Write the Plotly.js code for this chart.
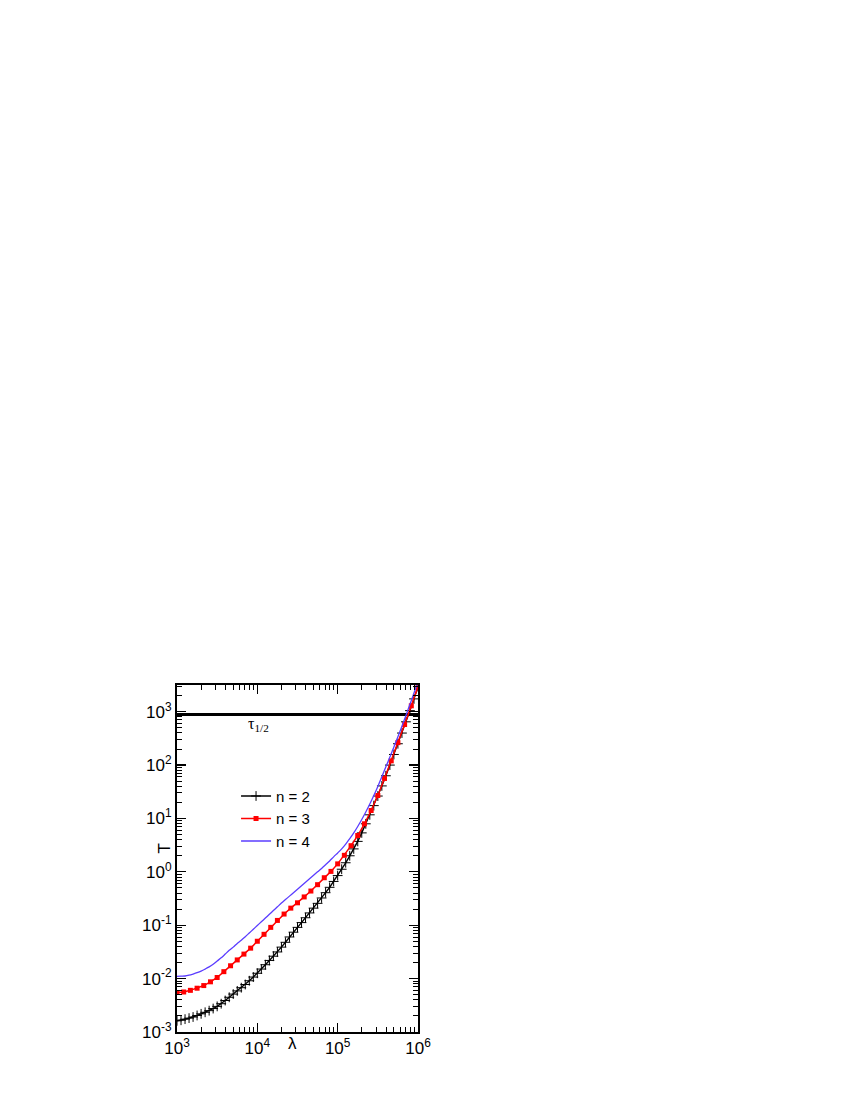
<!DOCTYPE html>
<html>
<head>
<meta charset="utf-8">
<script src="https://cdn.plot.ly/plotly-3.0.1.min.js"></script>
<style>
  body { margin: 0; background: #ffffff; }
  #chart { width: 850px; height: 1100px; }
</style>
</head>
<body>
<div id="chart"></div>
<script>
// lambda grid for n = 2 and n = 4 (20 points per decade)
const lambdaFine = [
  1000, 1122, 1259, 1413, 1585, 1778, 1995, 2239, 2512, 2818,
  3162, 3548, 3981, 4467, 5012, 5623, 6310, 7079, 7943, 8913,
  10000, 11220, 12590, 14130, 15850, 17780, 19950, 22390, 25120, 28180,
  31620, 35480, 39810, 44670, 50120, 56230, 63100, 70790, 79430, 89130,
  100000, 112200, 125900, 141300, 158500, 177800, 199500, 223900, 251200, 281800,
  316200, 354800, 398100, 446700, 501200, 562300, 631000, 707900, 794300, 891300,
  1000000
];

// lambda grid for n = 3 (12 points per decade)
const lambdaRed = [
  1000, 1212, 1468, 1778, 2154, 2610, 3162, 3831, 4642, 5623, 6813, 8254,
  10000, 12120, 14680, 17780, 21540, 26100, 31620, 38310, 46420, 56230, 68130, 82540,
  100000, 121200, 146800, 177800, 215400, 261000, 316200, 383100, 464200, 562300, 681300, 825400,
  1000000
];

const tN2 = [
  0.00162, 0.00166, 0.00174, 0.00182, 0.00191, 0.00204, 0.00219, 0.00234, 0.00251, 0.00275,
  0.00302, 0.00339, 0.00389, 0.00447, 0.00513, 0.00589, 0.00676, 0.00776, 0.00912, 0.0107,
  0.0126, 0.0151, 0.0182, 0.0219, 0.0263, 0.0316, 0.0389, 0.0479, 0.0603, 0.0741,
  0.0912, 0.112, 0.138, 0.170, 0.209, 0.257, 0.324, 0.407, 0.513, 0.661,
  0.851, 1.12, 1.48, 2.00, 2.69, 3.72, 5.37, 7.94, 11.7, 17.4,
  26.3, 40.7, 63.1, 100, 158, 251, 398, 646, 1047, 1738,
  2951
];

const tN3 = [
  0.00550, 0.00562, 0.00603, 0.00661, 0.00741, 0.00871, 0.0105, 0.0135, 0.0174, 0.0224, 0.0288, 0.0372,
  0.0501, 0.0676, 0.0912, 0.123, 0.162, 0.209, 0.263, 0.339, 0.437, 0.575, 0.776, 1.02,
  1.41, 2.04, 3.09, 4.79, 7.94, 14.1, 26.9, 56.2, 120, 263, 575, 1288,
  2951
];

const tN4 = [
  0.0110, 0.0111, 0.0112, 0.0116, 0.0122, 0.0129, 0.0138, 0.0151, 0.0166, 0.0186,
  0.0214, 0.0245, 0.0288, 0.0339, 0.0389, 0.0457, 0.0525, 0.0610, 0.0716, 0.0841,
  0.0989, 0.116, 0.136, 0.160, 0.188, 0.221, 0.260, 0.302, 0.351, 0.407,
  0.473, 0.550, 0.638, 0.741, 0.861, 1.00, 1.16, 1.36, 1.60, 1.91,
  2.26, 2.69, 3.31, 4.17, 5.37, 7.08, 9.55, 13.2, 18.6, 26.9,
  39.8, 60.3, 93.3, 141, 219, 339, 537, 851, 1380, 2239,
  3631
];

// half-life level (horizontal line)
const tHalf = 885;
const tHalfRange = [1000, 1000000];

const seriesNames = ['n = 2', 'n = 3', 'n = 4'];

const xTickVals = [1e3, 1e4, 1e5, 1e6];
const xTickText = ['10<sup>3</sup>', '10<sup>4</sup>', '10<sup>5</sup>', '10<sup>6</sup>'];
const yTickVals = [1e-3, 1e-2, 1e-1, 1e0, 1e1, 1e2, 1e3];
const yTickText = ['10<sup>-3</sup>', '10<sup>-2</sup>', '10<sup>-1</sup>', '10<sup>0</sup>',
                   '10<sup>1</sup>', '10<sup>2</sup>', '10<sup>3</sup>'];

const FONT = "'Liberation Sans', Arial, sans-serif";

const traces = [
  {
    x: tHalfRange, y: [tHalf, tHalf],
    type: 'scatter', mode: 'lines',
    line: { color: '#000000', width: 3 },
    showlegend: false, hoverinfo: 'skip'
  },
  {
    x: lambdaFine, y: tN2, name: seriesNames[0],
    type: 'scatter', mode: 'lines+markers',
    line: { color: '#000000', width: 1.4 },
    marker: { symbol: 'cross-thin', size: 7, color: '#000000', line: { color: '#000000', width: 1 } }
  },
  {
    x: lambdaRed, y: tN3, name: seriesNames[1],
    type: 'scatter', mode: 'lines+markers',
    line: { color: '#ff0000', width: 1.5 },
    marker: { symbol: 'square', size: 5, color: '#ff0000' }
  },
  {
    x: lambdaFine, y: tN4, name: seriesNames[2],
    type: 'scatter', mode: 'lines',
    line: { color: '#5a3cff', width: 1.3, shape: 'spline', smoothing: 0.8 }
  }
];

const axisCommon = {
  type: 'log',
  showline: true, linecolor: '#000000', linewidth: 2, mirror: 'ticks',
  ticks: 'inside', ticklen: 9, tickwidth: 1.3, tickcolor: '#000000',
  minor: { ticks: 'inside', ticklen: 5, tickwidth: 1, tickcolor: '#000000', dtick: 'D1' },
  showgrid: false, zeroline: false,
  tickfont: { family: FONT, size: 17, color: '#000000' },
  tickmode: 'array'
};

const layout = {
  width: 850, height: 1100,
  paper_bgcolor: '#ffffff', plot_bgcolor: '#ffffff',
  margin: { l: 177, r: 432, t: 685, b: 68 },
  showlegend: true,
  legend: {
    x: 0.245, y: 0.727, xanchor: 'left', yanchor: 'top',
    bgcolor: 'rgba(0,0,0,0)', borderwidth: 0,
    font: { family: FONT, size: 15, color: '#000000' },
    tracegroupgap: 0
  },
  xaxis: Object.assign({}, axisCommon, {
    range: [3, 6],
    tickvals: xTickVals, ticktext: xTickText
  }),
  yaxis: Object.assign({}, axisCommon, {
    range: [-3, 3.5],
    tickvals: yTickVals, ticktext: yTickText
  }),
  annotations: [
    {
      text: 'τ<sub>1/2</sub>', xref: 'x', yref: 'y',
      x: Math.log10(7300), y: Math.log10(tHalf),
      xanchor: 'left', yanchor: 'top', yshift: 2, showarrow: false,
      font: { family: "'Liberation Serif', 'Times New Roman', serif", size: 16, color: '#000000' }
    },
    {
      text: 'T', xref: 'paper', yref: 'paper',
      x: -0.1, y: 0.53, textangle: -90, showarrow: false,
      font: { family: FONT, size: 17, color: '#000000' }
    },
    {
      text: 'λ', xref: 'paper', yref: 'paper',
      x: 0.48, y: 0.0, yanchor: 'top', showarrow: false,
      font: { family: FONT, size: 17, color: '#000000' }
    }
  ]
};

Plotly.newPlot('chart', traces, layout, { displayModeBar: false, staticPlot: true });
</script>
</body>
</html>
